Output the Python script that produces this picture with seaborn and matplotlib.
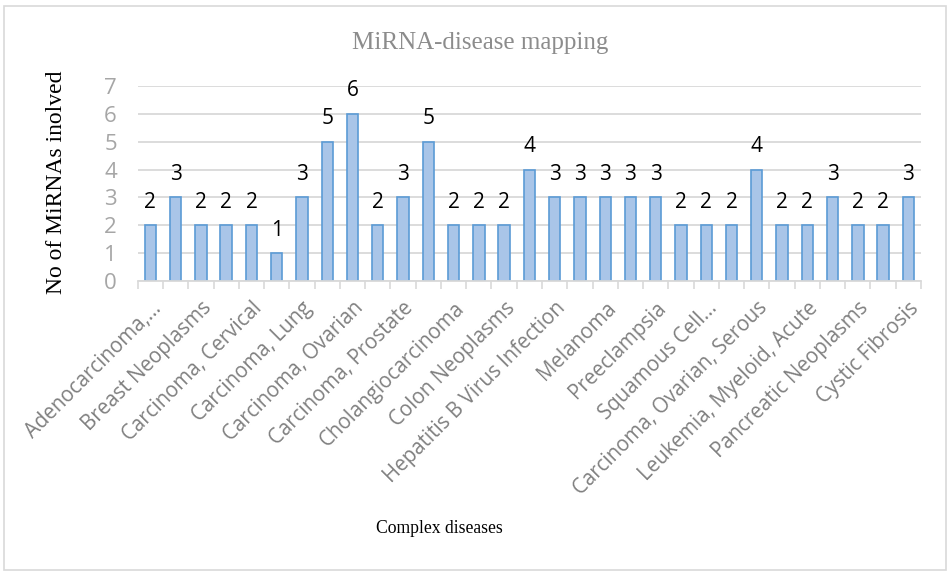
import matplotlib
matplotlib.use("Agg")
import matplotlib.pyplot as plt
import seaborn as sns
import pandas as pd
from matplotlib.patches import Rectangle

# diseases (only every second one is labelled on the axis in the original)
diseases = [
    "Adenocarcinoma,...", "Astrocytoma", "Breast Neoplasms", "Carcinoma, Basal Cell",
    "Carcinoma, Cervical", "Carcinoma, Hepatocellular", "Carcinoma, Lung", "Carcinoma, Non-Small-Cell",
    "Carcinoma, Ovarian", "Carcinoma, Pancreatic", "Carcinoma, Prostate", "Carcinoma, Renal",
    "Cholangiocarcinoma", "Colitis, Ulcerative", "Colon Neoplasms", "Glioblastoma",
    "Hepatitis B Virus Infection", "Lymphoma", "Melanoma", "Osteosarcoma",
    "Preeclampsia", "Retinoblastoma", "Squamous Cell...", "Stomach Neoplasms",
    "Carcinoma, Ovarian, Serous", "Heart Failure", "Leukemia, Myeloid, Acute", "Neuroblastoma",
    "Pancreatic Neoplasms", "Urinary Bladder Neoplasms", "Cystic Fibrosis",
]
n_mirnas = [2, 3, 2, 2, 2, 1, 3, 5, 6, 2, 3, 5, 2, 2, 2, 4,
            3, 3, 3, 3, 3, 2, 2, 2, 4, 2, 2, 3, 2, 2, 3]
shown_labels = [d if i % 2 == 0 else "" for i, d in enumerate(diseases)]

df = pd.DataFrame({"disease": diseases, "count": n_mirnas})

sns.set_style("white")
label_font = ["Open Sans", "DejaVu Sans"]
serif_font = ["Liberation Serif", "DejaVu Serif"]

fig = plt.figure(figsize=(9.5, 5.76), dpi=100)
ax = fig.add_axes([0.145, 0.512, 0.8245, 0.339])

sns.barplot(data=df, x="disease", y="count", ax=ax, width=0.45,
            color="#A9C5E8", edgecolor="#5B9BD5", linewidth=1.2, saturation=1)

for c in ax.containers:
    ax.bar_label(c, padding=9, fontsize=15, family=label_font, color="black")

ax.set_ylim(0, 7)
ax.set_xlim(-0.5, len(diseases) - 0.5)
ax.set_yticks(range(0, 8))
ax.set_yticklabels([str(v) for v in range(0, 8)], family=label_font,
                   fontsize=16, color="#A6A6A6")
ax.grid(axis="y", color="#D9D9D9", linewidth=1.3)
ax.set_axisbelow(True)

ax.set_xticks(range(len(diseases)))
ax.set_xticklabels(shown_labels, rotation=45, ha="right", rotation_mode="anchor",
                   family=label_font, fontsize=14.8, color="#808080")
ax.set_xticks([i - 0.5 for i in range(len(diseases) + 1)], minor=True)
ax.tick_params(axis="x", which="major", length=0, pad=12)
ax.tick_params(axis="x", which="minor", length=6, color="#D9D9D9", width=1.2, bottom=True)
ax.tick_params(axis="y", length=0, pad=15)

for s in ["top", "right", "left"]:
    ax.spines[s].set_visible(False)
ax.spines["bottom"].set_color("#D9D9D9")
ax.spines["bottom"].set_linewidth(1.3)

ax.set_xlabel("")
ax.set_ylabel("")
fig.text(0.505, 0.925, "MiRNA-disease mapping", ha="center", va="center",
         family=serif_font, fontsize=18, color="#8C8C8C")
fig.text(0.059, 0.683, "No of MiRNAs inolved", ha="center", va="center", rotation=90,
         family=serif_font, fontsize=17, color="black")
fig.text(0.4625, 0.083, "Complex diseases", ha="center", va="center",
         family=serif_font, fontsize=12.7, color="black")

fig.patches.append(Rectangle((0.004, 0.01), 0.992, 0.98, transform=fig.transFigure,
                             fill=False, edgecolor="#D9D9D9", linewidth=1.2))

fig.savefig("out.png", dpi=100)
